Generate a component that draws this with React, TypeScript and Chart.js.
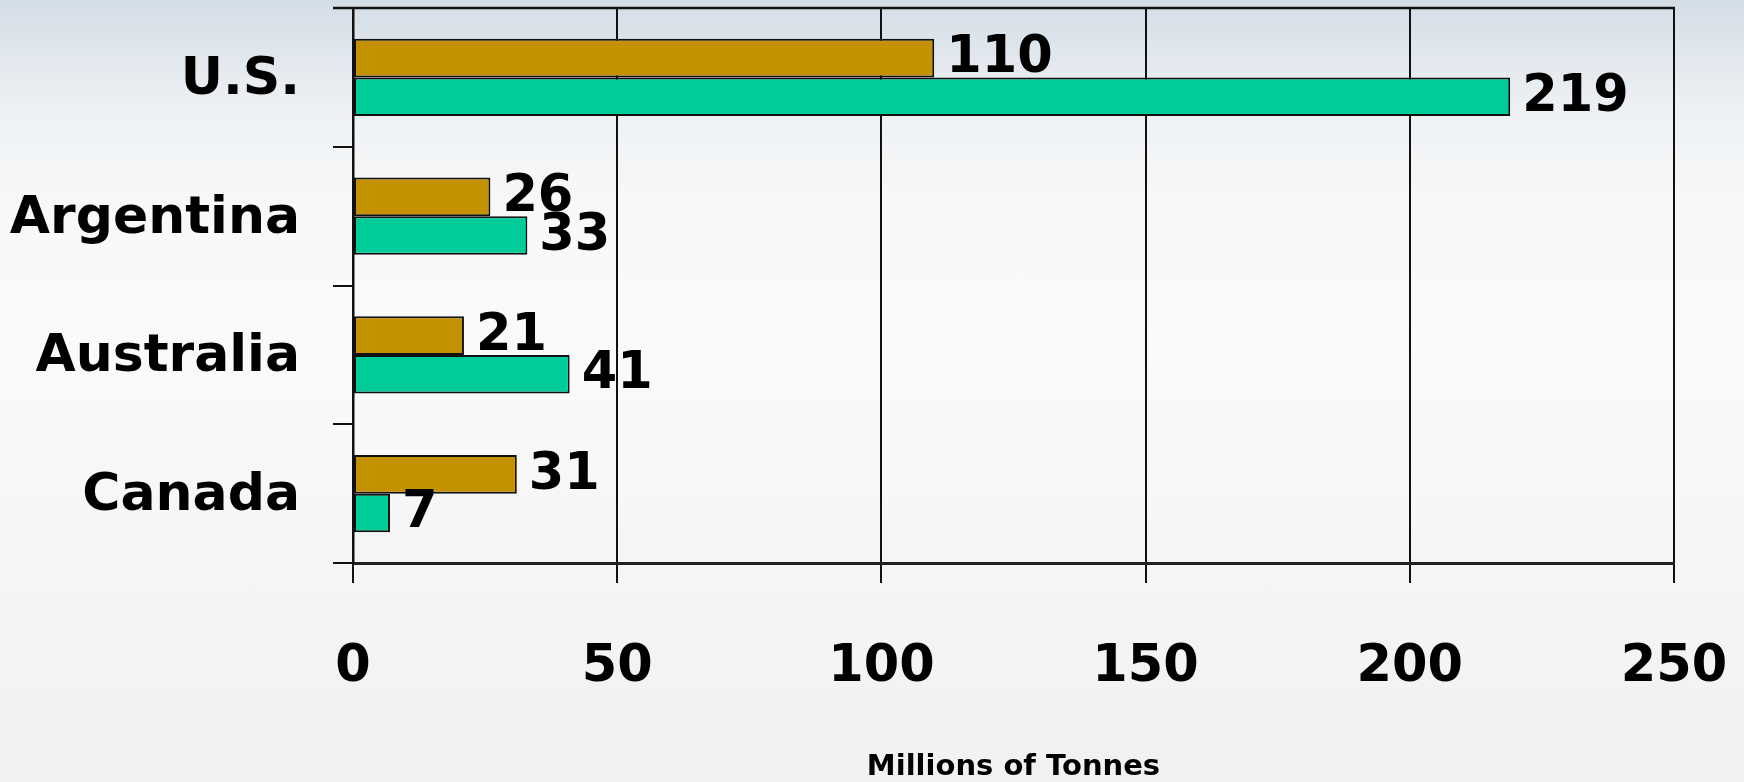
import React, { useEffect, useRef } from 'react';
import { Chart, registerables } from 'chart.js';

Chart.register(...registerables);

// ---- Data ----
const categories = ['U.S.', 'Argentina', 'Australia', 'Canada'];
const seriesA = [110, 26, 21, 31]; // gold bars
const seriesB = [219, 33, 41, 7]; // green bars
const xTickValues = [0, 50, 100, 150, 200, 250];
const xAxisTitle = 'Millions of Tonnes';

const FONT = '"DejaVu Sans", "Liberation Sans", Arial, sans-serif';

const valueLabels = {
  id: 'valueLabels',
  afterDatasetsDraw(chart: any) {
    const ctx = chart.ctx;
    ctx.save();
    ctx.font = `bold 51px ${FONT}`;
    ctx.fillStyle = '#000';
    ctx.textAlign = 'left';
    ctx.textBaseline = 'middle';
    chart.data.datasets.forEach((ds: any, di: number) => {
      const meta = chart.getDatasetMeta(di);
      meta.data.forEach((bar: any, i: number) => {
        ctx.fillText(String(ds.data[i]), bar.x + 12, bar.y + 1);
      });
    });
    ctx.restore();
  },
};

const topFrame = {
  id: 'topFrame',
  afterDraw(chart: any) {
    const { ctx, chartArea } = chart;
    ctx.save();
    ctx.strokeStyle = '#111';
    ctx.lineWidth = 2.5;
    ctx.beginPath();
    ctx.moveTo(chartArea.left - 20, chartArea.top);
    ctx.lineTo(chartArea.right + 1, chartArea.top);
    ctx.stroke();
    ctx.restore();
  },
};

export default function App() {
  const canvasRef = useRef<HTMLCanvasElement | null>(null);

  useEffect(() => {
    document.body.style.margin = '0';
    const canvas = canvasRef.current;
    if (!canvas) return;
    const chart = new Chart(canvas, {
      type: 'bar',
      data: {
        labels: categories,
        datasets: [
          {
            label: 'Series A',
            data: seriesA,
            backgroundColor: '#C49200',
            borderColor: '#111',
            borderWidth: 2,
            borderSkipped: false,
            categoryPercentage: 0.556,
            barPercentage: 1.0,
          },
          {
            label: 'Series B',
            data: seriesB,
            backgroundColor: '#00CC99',
            borderColor: '#111',
            borderWidth: 2,
            borderSkipped: false,
            categoryPercentage: 0.556,
            barPercentage: 1.0,
          },
        ],
      },
      options: {
        indexAxis: 'y',
        responsive: false,
        animation: false,
        devicePixelRatio: 1,
        layout: { padding: { top: 8, right: 70, left: 0, bottom: 0 } },
        plugins: {
          legend: { display: false },
          tooltip: { enabled: false },
        },
        scales: {
          x: {
            type: 'linear',
            min: 0,
            max: 250,
            afterBuildTicks: (scale: any) => {
              scale.ticks = xTickValues.map((v) => ({ value: v }));
            },
            afterFit: (scale: any) => {
              scale.height = 219;
              scale.paddingLeft = 0;
              scale.paddingRight = 0;
            },
            grid: {
              color: '#111',
              lineWidth: 2,
              tickLength: 20,
              drawOnChartArea: true,
              drawTicks: true,
            },
            border: { display: true, color: '#222', width: 3 },
            ticks: {
              color: '#000',
              padding: 54,
              font: { family: FONT, size: 51, weight: 'bold', lineHeight: 1.2 },
              maxRotation: 0,
              autoSkip: false,
            },
            title: {
              display: true,
              text: xAxisTitle,
              color: '#000',
              font: { family: FONT, size: 29, weight: 'bold', lineHeight: 1 },
              padding: { top: 0, bottom: 0 },
            },
          },
          y: {
            type: 'category',
            offset: true,
            afterFit: (scale: any) => {
              scale.width = 353;
              scale.paddingTop = 0;
              scale.paddingBottom = 0;
            },
            grid: {
              offset: true,
              color: '#111',
              lineWidth: 2,
              tickLength: 20,
              drawOnChartArea: false,
              drawTicks: true,
            },
            border: { display: true, color: '#111', width: 2.5 },
            ticks: {
              color: '#000',
              padding: 33,
              labelOffset: 3,
              font: { family: FONT, size: 52, weight: 'bold' },
              autoSkip: false,
            },
          },
        },
      },
      plugins: [valueLabels, topFrame],
    } as any);
    return () => chart.destroy();
  }, []);

  return (
    <div
      style={{
        width: 1744,
        height: 782,
        background:
          'linear-gradient(to bottom, #d3dde6 0%, #dfe6ec 6%, #eef1f4 14%, #f7f8f9 26%, #fafafa 45%, #f5f5f5 75%, #f1f1f1 100%)',
      }}
    >
      <canvas ref={canvasRef} width={1744} height={782} style={{ display: 'block' }} />
    </div>
  );
}
